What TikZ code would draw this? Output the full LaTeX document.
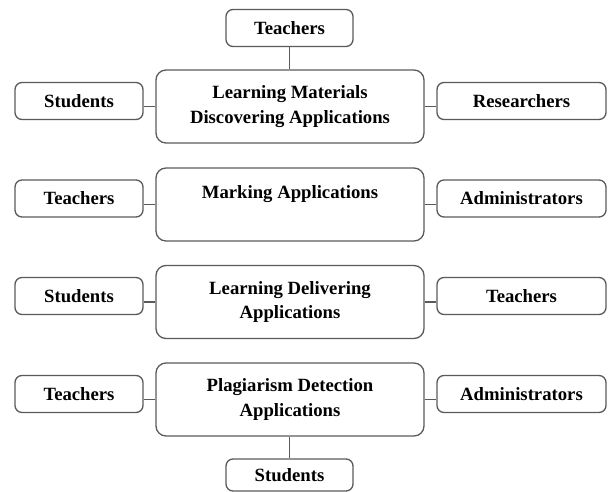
\documentclass[tikz,border=0pt]{standalone}
\usepackage{xcolor}
\usepackage{fontspec}
\setmainfont{Liberation Serif}
\usepackage{tikz}
\usetikzlibrary{positioning,calc}
\definecolor{linegray}{RGB}{90,90,90}
\newcommand{\boxfont}{\fontsize{18.7}{24.5}\selectfont\bfseries}
\tikzset{
  box/.style = {draw=linegray, line width=1.3pt, rounded corners=7pt, inner sep=0pt, align=center, font=\boxfont},
  appbox/.style = {box, minimum width=268pt, minimum height=73pt, rounded corners=10pt},
  userbox/.style = {box, minimum height=37pt},
  link/.style = {draw=linegray, line width=1.3pt},
}

\begin{document}
\begin{tikzpicture}[x=1pt, y=-1pt]

			\useasboundingbox (0,0) rectangle (608,492);

			\def\mx{290}
			\def\lx{79}
			\def\rx{521.5}

			% application boxes
			\node[appbox] (app1) at (\mx,106.5) {Learning Materials\\Discovering Applications};
			\node[appbox] (app2) at (\mx,204.5) {Marking Applications\\~};
			\node[appbox] (app3) at (\mx,302) {Learning Delivering\\Applications};
			\node[appbox] (app4) at (\mx,399.5) {Plagiarism Detection\\Applications};

			% users round them
			\node[userbox, minimum width=127pt] (top) at (289.5,28) {Teachers};
			\node[userbox, minimum width=128pt] (left1) at (\lx,101) {Students};
			\node[userbox, minimum width=169pt] (right1) at (\rx,101) {Researchers};
			\node[userbox, minimum width=128pt] (left2) at (\lx,198.5) {Teachers};
			\node[userbox, minimum width=169pt] (right2) at (\rx,198.5) {Administrators};
			\node[userbox, minimum width=128pt] (left3) at (\lx,296) {Students};
			\node[userbox, minimum width=169pt] (right3) at (\rx,296) {Teachers};
			\node[userbox, minimum width=128pt] (left4) at (\lx,394) {Teachers};
			\node[userbox, minimum width=169pt] (right4) at (\rx,394) {Administrators};
			\node[userbox, minimum width=127pt, minimum height=32pt] (bottom) at (289.5,475) {Students};

			% connectors
			\draw[link] (top.south) -- (top.south |- app1.north);
			\foreach \i in {1,...,4}{
				\draw[link] (app\i.west) -- (app\i.west -| left\i.east);
				\draw[link] (app\i.east) -- (app\i.east -| right\i.west);
			}
			\draw[link] (bottom.north |- app4.south) -- (bottom.north);

\end{tikzpicture}
\end{document}
